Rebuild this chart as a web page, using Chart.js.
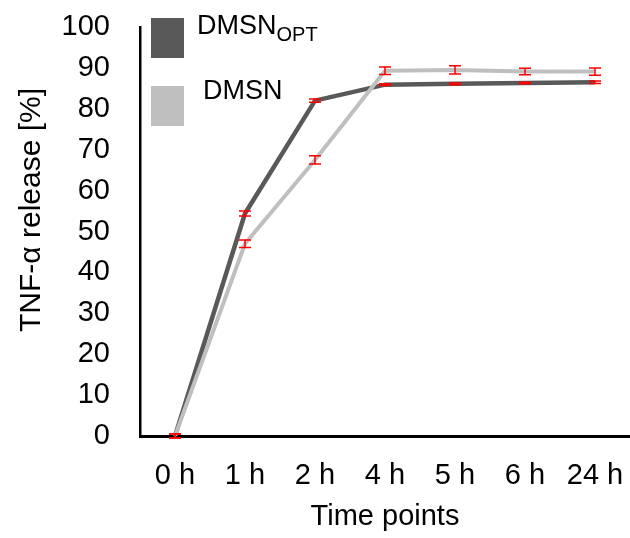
<!DOCTYPE html>
<html>
<head>
<meta charset="utf-8">
<script src="https://cdn.jsdelivr.net/npm/chart.js@4"></script>
<style>
  html, body { margin: 0; padding: 0; background: #fff; }
  #wrap { width: 630px; height: 538px; }
</style>
</head>
<body>
<div id="wrap"><canvas id="releaseChart" width="630" height="538"></canvas></div>
<script>
const timePoints = ["0 h", "1 h", "2 h", "4 h", "5 h", "6 h", "24 h"];
const dmsnOpt = [0, 54.4, 82.0, 85.9, 86.1, 86.3, 86.5];
const dmsnOptErr = [0.5, 0.6, 0.4, 0.2, 0.2, 0.2, 0.3];
const dmsn = [0, 47.0, 67.5, 89.3, 89.5, 89.1, 89.1];
const dmsnErr = [0.5, 0.9, 1.0, 0.9, 1.0, 0.8, 0.9];
const yTicks = [0, 10, 20, 30, 40, 50, 60, 70, 80, 90, 100];

const FONT = "'Liberation Sans', Arial, sans-serif";

// red error caps on every point
const errorBars = {
  id: "errorBars",
  afterDatasetsDraw(chart) {
    const ctx = chart.ctx;
    const y = chart.scales.y;
    ctx.save();
    ctx.strokeStyle = "#ff0000";
    ctx.lineWidth = 1.5;
    chart.data.datasets.forEach((ds, i) => {
      const meta = chart.getDatasetMeta(i);
      meta.data.forEach((pt, j) => {
        const e = ds.errors[j];
        const top = y.getPixelForValue(ds.data[j] + e);
        const bot = y.getPixelForValue(ds.data[j] - e);
        ctx.beginPath();
        ctx.moveTo(pt.x, top); ctx.lineTo(pt.x, bot);
        ctx.moveTo(pt.x - 6, top); ctx.lineTo(pt.x + 6, top);
        ctx.moveTo(pt.x - 6, bot); ctx.lineTo(pt.x + 6, bot);
        ctx.stroke();
      });
    });
    ctx.restore();
  }
};

// legend with big swatches and subscript label, plus the y title
const bigLegend = {
  id: "bigLegend",
  afterDraw(chart) {
    const ctx = chart.ctx;
    ctx.save();
    ctx.fillStyle = "#595959";
    ctx.fillRect(151, 18, 33, 40);
    ctx.fillStyle = "#bfbfbf";
    ctx.fillRect(151, 86, 33, 40);
    ctx.fillStyle = "#000";
    ctx.textBaseline = "alphabetic";
    ctx.font = "27px " + FONT;
    ctx.fillText("DMSN", 197, 34);
    const w = ctx.measureText("DMSN").width;
    ctx.font = "20px " + FONT;
    ctx.fillText("OPT", 197 + w, 41);
    ctx.font = "27px " + FONT;
    ctx.fillText("DMSN", 203, 99);

    ctx.translate(32, 210);
    ctx.rotate(-Math.PI / 2);
    ctx.textAlign = "center";
    ctx.textBaseline = "middle";
    ctx.font = "30px " + FONT;
    ctx.fillText("TNF-α release [%]", 0, 0);
    ctx.restore();
  }
};

new Chart(document.getElementById("releaseChart"), {
  type: "line",
  data: {
    labels: timePoints,
    datasets: [
      { label: "DMSN", data: dmsn, errors: dmsnErr, borderColor: "#bfbfbf", borderWidth: 4, pointRadius: 0, order: 0 },
      { label: "DMSNOPT", data: dmsnOpt, errors: dmsnOptErr, borderColor: "#595959", borderWidth: 4.5, pointRadius: 0, order: 1 }
    ]
  },
  options: {
    responsive: false,
    animation: false,
    layout: { padding: { top: 27, right: 0, bottom: 0, left: 0 } },
    plugins: { legend: { display: false }, tooltip: { enabled: false } },
    scales: {
      x: {
        offset: true,
        grid: { display: false, drawTicks: true, tickLength: 20, tickColor: "transparent" },
        border: { color: "#000", width: 3 },
        ticks: { color: "#000", font: { family: FONT, size: 29 }, padding: 3, maxRotation: 0 },
        title: { display: true, text: "Time points", color: "#000", font: { family: FONT, size: 29 }, padding: { top: 0, bottom: 4 } },
        afterFit(s) { s.height = 102; }
      },
      y: {
        min: 0, max: 100,
        afterBuildTicks(s) { s.ticks = yTicks.map(v => ({ value: v })); },
        grid: { display: false, drawTicks: true, tickLength: 27, tickColor: "transparent" },
        border: { color: "#000", width: 2.5 },
        ticks: { color: "#000", font: { family: FONT, size: 29 }, padding: 3 },
        title: { display: false },
        afterFit(s) { s.width = 140; }
      }
    }
  },
  plugins: [errorBars, bigLegend]
});
</script>
</body>
</html>
